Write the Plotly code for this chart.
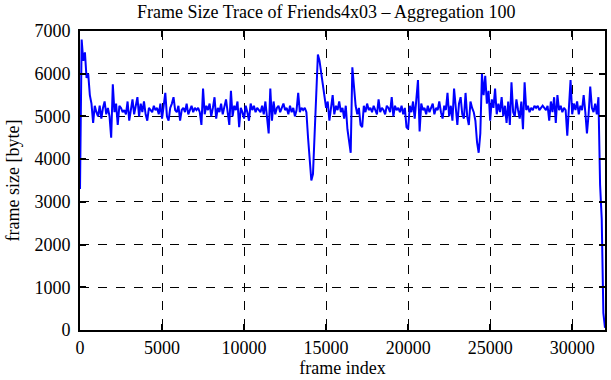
import plotly.graph_objects as go

AGG = 100
frame_size = [
    3300, 6800, 6300, 6500, 5900, 6000, 5500, 5300, 4850, 5250,
    5100, 5000, 5250, 4950, 5200, 5350, 5050, 5200, 5000, 4500,
    5750, 5100, 5300, 4800, 5250, 5200, 5100, 5150, 5050, 5350,
    4900, 5200, 5400, 5050, 5250, 5450, 5000, 5300, 5100, 5350,
    5050, 4900, 5200, 5150, 5100, 5250, 5150, 5200, 5050, 5300,
    4950, 5250, 5550, 5000, 4900, 5200, 5300, 5450, 5150, 5100,
    5250, 4900, 5150, 5200, 5100, 5300, 5050, 5150, 5250, 5100,
    5200, 5150, 5200, 5100, 4800, 5650, 5050, 5250, 5150, 5300,
    5000, 5200, 5450, 4950, 5200, 5100, 5300, 5050, 5200, 5400,
    5100, 4800, 5600, 5000, 5250, 5150, 5350, 4750, 5200, 5100,
    4950, 5250, 5100, 4900, 5300, 5150, 5250, 5100, 5200, 5150,
    5100, 5250, 5050, 5350, 5000, 4600, 5650, 4900, 5350, 5050,
    5200, 5250, 5100, 5200, 5300, 5150, 5200, 5050, 5250, 5100,
    5200, 5000, 5150, 5550, 5100, 5200, 5150, 5200, 5100, 4500,
    3900, 3500, 3650, 4700, 5600, 6450, 6300, 6000, 5800, 5400,
    5200, 5350, 4900, 5200, 5500, 5050, 5250, 5150, 5350, 5100,
    5200, 4950, 5250, 4700, 4400, 4150, 6150, 5600, 5250, 5050,
    5200, 4800, 4750, 5250, 5100, 5300, 5150, 5200, 5100, 5250,
    5150, 5050, 5400, 5100, 5200, 5150, 5050, 5250, 5200, 5100,
    5450, 5000, 5250, 5150, 5200, 5100, 5250, 5050, 5200, 4750,
    4700, 5250, 5100, 5350, 4950, 5450, 5850, 4650, 5300, 5150,
    5200, 5050, 5250, 5100, 5200, 5300, 5050, 5200, 5150, 5350,
    5100, 4950, 5250, 5150, 5550, 5000, 5250, 4900, 5650, 5100,
    4800, 5300, 5450, 5050, 4950, 5550, 5000, 4800, 5350, 5200,
    5100, 4900, 4400, 4150, 4600, 6000, 5500, 5950, 5300, 5600,
    4900, 5400, 5200, 5650, 5050, 5300, 5100, 5450, 5000, 5250,
    4850, 5350, 4800, 5800, 5100, 5000, 5400, 5150, 4950, 5350,
    4700, 5800, 5150, 5250, 5100, 5200, 5150, 5250, 5200, 5250,
    5150, 5200, 5250, 5200, 5150, 5250, 4900, 5350, 5100, 5450,
    4850, 5500, 5150, 5250, 5100, 5200, 5150, 4550, 5100, 5850,
    5050, 5300, 5150, 5350, 5050, 5250, 5150, 5500, 5100, 4600,
    5050, 5700, 5200, 5100, 5300, 5050, 5450, 3400, 2600, 400,
    50,
]
frame_index = [i * AGG for i in range(len(frame_size))]

x_ticks = [0, 5000, 10000, 15000, 20000, 25000, 30000]
y_ticks = [0, 1000, 2000, 3000, 4000, 5000, 6000, 7000]

FONT = "Liberation Serif, Times New Roman, serif"

fig = go.Figure()
fig.add_trace(go.Scatter(
    x=frame_index, y=frame_size, mode="lines",
    line=dict(color="#0000FF", width=2),
    showlegend=False,
))

axis_common = dict(
    showline=True, linecolor="black", linewidth=2, mirror="ticks",
    ticks="inside", ticklen=6, tickwidth=1.5, tickcolor="black",
    showgrid=True, gridcolor="black", gridwidth=1, griddash="dash",
    zeroline=False,
    tickfont=dict(family=FONT, size=18, color="black"),
)

fig.update_layout(
    width=611, height=380,
    margin=dict(l=80, r=4, t=31, b=50),
    paper_bgcolor="white", plot_bgcolor="white",
    font=dict(family=FONT, size=18, color="black"),
    title=dict(text="Frame Size Trace of Friends4x03 \u2013 Aggregation 100",
               x=0.534, xanchor="center", y=0.968, yanchor="middle",
               font=dict(family=FONT, size=18, color="black")),
    xaxis=dict(range=[0, 32000], tickvals=x_ticks,
               ticktext=[str(v) for v in x_ticks],
               title=dict(text="frame index", standoff=5,
                          font=dict(family=FONT, size=18)),
               **axis_common),
    yaxis=dict(range=[0, 7000], tickvals=y_ticks,
               ticktext=[str(v) for v in y_ticks],
               title=dict(text="frame size [byte]", standoff=10,
                          font=dict(family=FONT, size=18)),
               ticklabelstandoff=4,
               **axis_common),
)

fig.write_html("out.html")
